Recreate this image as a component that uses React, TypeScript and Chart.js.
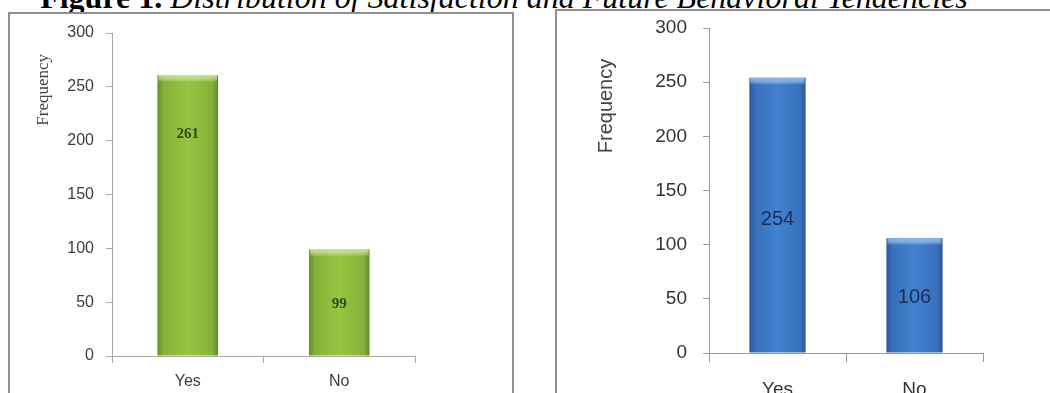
import React, { useEffect, useRef } from "react";
import { Chart, registerables } from "chart.js";

Chart.register(...registerables);

// ---- data ----
const categories = ["Yes", "No"];
const satisfactionValues = [261, 99];
const behaviourValues = [254, 106];
const yTickValues = [0, 50, 100, 150, 200, 250, 300];
const yAxisTitle = "Frequency";
const figureLabel = "Figure 1.";
const figureCaption = " Distribution of Satisfaction and Future Behavioral Tendencies";

type PanelOpts = {
  canvasW: number;
  canvasH: number;
  padTop: number;
  padRight: number;
  yWidth: number;
  xHeight: number;
  xTick: number;
  yTick: number;
  xPad: number;
  yPad: number;
  barPct: number;
  tickFont: any;
  tickColor: string;
  axisColor: string;
  stops: [number, string][];
  capColor: string;
  valueFont: string;
  valueColor: string;
  labelAnchors: number[];
  titleFont: string;
  titleColor: string;
  titleDx: number;
  titleFrac: number;
};

const barDecor = {
  id: "barDecor",
  beforeDatasetsDraw(chart: any, _args: any, o: any) {
    const ctx = chart.ctx;
    const meta = chart.getDatasetMeta(0);
    meta.data.forEach((el: any) => {
      const w = el.width;
      const g = ctx.createLinearGradient(el.x - w / 2, 0, el.x + w / 2, 0);
      o.stops.forEach((s: [number, string]) => g.addColorStop(s[0], s[1]));
      el.options.backgroundColor = g;
    });
  },
  afterDatasetsDraw(chart: any, _args: any, o: any) {
    const ctx = chart.ctx;
    const meta = chart.getDatasetMeta(0);
    const ds = chart.data.datasets[0];
    const yScale = chart.scales.y;
    ctx.save();
    meta.data.forEach((el: any, i: number) => {
      const left = el.x - el.width / 2;
      const top = el.y;
      // top bevel
      const cap = ctx.createLinearGradient(0, top, 0, top + 7);
      cap.addColorStop(0, o.capColor);
      cap.addColorStop(1, "rgba(255,255,255,0)");
      ctx.fillStyle = cap;
      ctx.fillRect(left + 1, top, el.width - 2, 7);
      // value label
      const v = ds.data[i];
      const anchor = o.labelAnchors[i] ?? 0.5;
      const py = yScale.getPixelForValue(v * anchor);
      ctx.font = o.valueFont;
      ctx.fillStyle = o.valueColor;
      ctx.textAlign = "center";
      ctx.textBaseline = "middle";
      ctx.fillText(String(v), el.x, py);
    });
    // axis title
    const ca = chart.chartArea;
    ctx.translate(ca.left + o.titleDx, ca.top + o.titleFrac * (ca.bottom - ca.top));
    ctx.rotate(-Math.PI / 2);
    ctx.font = o.titleFont;
    ctx.fillStyle = o.titleColor;
    ctx.textAlign = "center";
    ctx.textBaseline = "middle";
    ctx.fillText(o.title, 0, 0);
    ctx.restore();
  },
};

function buildConfig(values: number[], o: PanelOpts): any {
  return {
    type: "bar",
    data: {
      labels: categories,
      datasets: [
        {
          data: values,
          backgroundColor: () => o.stops[2][1],
          borderWidth: 0,
          barPercentage: o.barPct,
          categoryPercentage: 1,
        },
      ],
    },
    options: {
      responsive: false,
      animation: false,
      layout: { padding: { left: 0, top: o.padTop, right: o.padRight, bottom: 0 } },
      plugins: {
        legend: { display: false },
        tooltip: { enabled: false },
        title: { display: false },
        barDecor: {
          stops: o.stops,
          capColor: o.capColor,
          valueFont: o.valueFont,
          valueColor: o.valueColor,
          labelAnchors: o.labelAnchors,
          titleFont: o.titleFont,
          titleColor: o.titleColor,
          titleDx: o.titleDx,
          titleFrac: o.titleFrac,
          title: yAxisTitle,
        },
      },
      scales: {
        x: {
          grid: {
            display: true,
            drawOnChartArea: false,
            drawTicks: true,
            tickLength: o.xTick,
            color: o.axisColor,
            offset: true,
          },
          border: { display: true, color: o.axisColor },
          ticks: { font: o.tickFont, color: o.tickColor, padding: o.xPad },
          afterFit: (s: any) => {
            s.height = o.xHeight;
            s.paddingLeft = 0;
            s.paddingRight = 0;
          },
        },
        y: {
          min: 0,
          max: 300,
          grid: {
            display: true,
            drawOnChartArea: false,
            drawTicks: true,
            tickLength: o.yTick,
            color: o.axisColor,
          },
          border: { display: true, color: o.axisColor },
          ticks: { font: o.tickFont, color: o.tickColor, padding: o.yPad },
          afterBuildTicks: (s: any) => {
            s.ticks = yTickValues.map((v) => ({ value: v }));
          },
          afterFit: (s: any) => {
            s.width = o.yWidth;
            s.paddingTop = 0;
            s.paddingBottom = 0;
          },
        },
      },
    },
    plugins: [barDecor],
  };
}

function BarPanel({ values, opts, box }: { values: number[]; opts: PanelOpts; box: any }) {
  const ref = useRef<HTMLCanvasElement>(null);
  useEffect(() => {
    const chart = new Chart(ref.current as HTMLCanvasElement, buildConfig(values, opts));
    return () => chart.destroy();
  }, []);
  return (
    <div
      style={{
        position: "absolute",
        boxSizing: "border-box",
        border: "2px solid #8e8e8e",
        background: "#fff",
        overflow: "hidden",
        ...box,
      }}
    >
      <canvas
        ref={ref}
        width={opts.canvasW}
        height={opts.canvasH}
        style={{ display: "block", width: opts.canvasW, height: opts.canvasH }}
      />
    </div>
  );
}

const leftOpts: PanelOpts = {
  canvasW: 502,
  canvasH: 379,
  padTop: 19,
  padRight: 97,
  yWidth: 102,
  xHeight: 37,
  xTick: 7,
  yTick: 6,
  xPad: 9,
  yPad: 12,
  barPct: 0.4,
  tickFont: { family: "'Liberation Sans', Arial, sans-serif", size: 16 },
  tickColor: "#3c3c3c",
  axisColor: "#a6a6a6",
  stops: [
    [0, "#628c27"],
    [0.1, "#84b237"],
    [0.5, "#97c441"],
    [0.9, "#84b237"],
    [1, "#628c27"],
  ],
  capColor: "#c6e27e",
  valueFont: "bold 15px 'Liberation Serif', serif",
  valueColor: "#2f4d12",
  labelAnchors: [0.79, 0.49],
  titleFont: "17px 'Liberation Serif', serif",
  titleColor: "#444",
  titleDx: -68,
  titleFrac: 0.176,
};

const rightOpts: PanelOpts = {
  canvasW: 493,
  canvasH: 382,
  padTop: 17,
  padRight: 67,
  yWidth: 152,
  xHeight: 40,
  xTick: 9,
  yTick: 6,
  xPad: 16,
  yPad: 16,
  barPct: 0.41,
  tickFont: { family: "'Liberation Sans', Arial, sans-serif", size: 19 },
  tickColor: "#333",
  axisColor: "#9a9a9a",
  stops: [
    [0, "#2a5796"],
    [0.1, "#3870bb"],
    [0.5, "#4282cf"],
    [0.9, "#3870bb"],
    [1, "#2a5796"],
  ],
  capColor: "#7fb0ea",
  valueFont: "20px 'Liberation Sans', Arial, sans-serif",
  valueColor: "#1b2f5a",
  labelAnchors: [0.485, 0.48],
  titleFont: "20px 'Liberation Sans', Arial, sans-serif",
  titleColor: "#444",
  titleDx: -103,
  titleFrac: 0.24,
};

export default function App() {
  return (
    <div
      style={{
        position: "fixed",
        left: 0,
        top: 0,
        width: 1050,
        height: 393,
        overflow: "hidden",
        background: "#fff",
      }}
    >
      <div
        style={{
          position: "absolute",
          left: 0,
          top: -19,
          width: 1008,
          textAlign: "center",
          fontFamily: "'Liberation Serif', 'Times New Roman', serif",
          fontSize: 32,
          lineHeight: "32px",
          whiteSpace: "nowrap",
          color: "#000",
        }}
      >
        <b>{figureLabel}</b>
        <i>{figureCaption}</i>
      </div>
      <BarPanel values={satisfactionValues} opts={leftOpts} box={{ left: 8, top: 12, width: 506, height: 400 }} />
      <BarPanel values={behaviourValues} opts={rightOpts} box={{ left: 555, top: 9, width: 520, height: 400 }} />
    </div>
  );
}
